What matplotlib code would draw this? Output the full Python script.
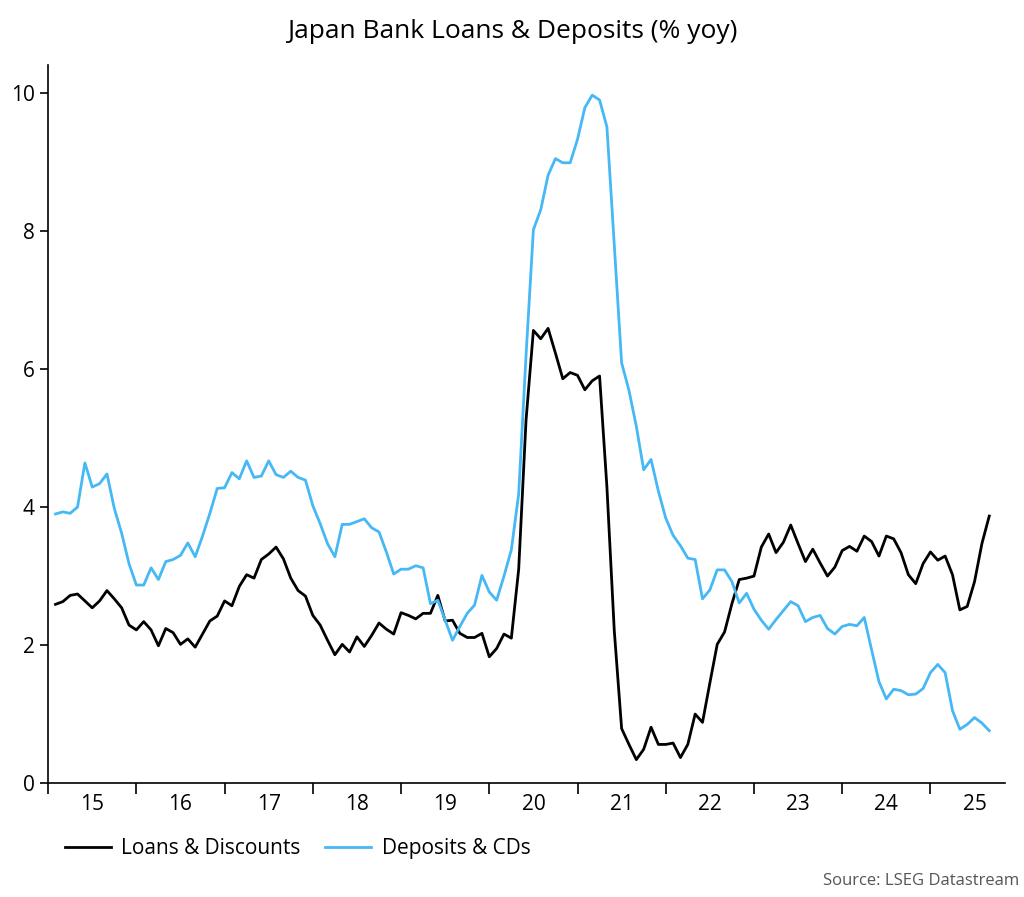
import matplotlib
matplotlib.use("Agg")
import matplotlib.pyplot as plt
import numpy as np

plt.rcParams["font.family"] = "Open Sans"

title = "Japan Bank Loans & Deposits (% yoy)"
start_year = 2015
year_labels = ["15", "16", "17", "18", "19", "20", "21", "22", "23", "24", "25"]

loans = [2.59,2.63,2.72,2.74,2.64,2.54,2.64,2.79,2.67,2.54,
         2.29,2.22,2.34,2.22,1.99,2.24,2.18,2.01,2.09,1.97,
         2.16,2.35,2.42,2.64,2.57,2.85,3.02,2.97,3.24,3.32,
         3.42,3.25,2.97,2.79,2.71,2.43,2.29,2.07,1.86,2.01,
         1.90,2.12,1.98,2.14,2.32,2.23,2.16,2.47,2.43,2.38,
         2.46,2.46,2.72,2.35,2.36,2.17,2.11,2.11,2.17,1.83,
         1.95,2.16,2.10,3.10,5.26,6.56,6.44,6.59,6.23,5.86,
         5.95,5.91,5.70,5.83,5.90,4.29,2.21,0.79,0.56,0.34,
         0.49,0.81,0.56,0.56,0.58,0.37,0.56,1.00,0.88,1.45,
         2.01,2.19,2.60,2.95,2.97,3.00,3.42,3.61,3.34,3.49,
         3.74,3.47,3.21,3.39,3.19,3.00,3.13,3.37,3.43,3.36,
         3.58,3.50,3.29,3.58,3.54,3.34,3.02,2.89,3.18,3.35,
         3.23,3.29,3.02,2.51,2.56,2.92,3.47,3.87]

deposits = [3.90,3.93,3.91,4.00,4.64,4.29,4.34,4.48,3.98,3.62,
            3.18,2.87,2.87,3.12,2.95,3.21,3.24,3.30,3.48,3.28,
            3.58,3.91,4.27,4.28,4.50,4.41,4.67,4.43,4.45,4.67,
            4.47,4.43,4.52,4.43,4.39,4.02,3.76,3.47,3.28,3.75,
            3.75,3.79,3.83,3.70,3.64,3.35,3.03,3.10,3.10,3.15,
            3.12,2.60,2.65,2.36,2.07,2.27,2.46,2.58,3.01,2.77,
            2.65,3.00,3.38,4.19,6.20,8.02,8.31,8.81,9.05,8.99,
            8.99,9.33,9.79,9.97,9.90,9.51,7.80,6.09,5.69,5.17,
            4.54,4.69,4.23,3.84,3.59,3.44,3.26,3.24,2.67,2.80,
            3.09,3.09,2.92,2.61,2.75,2.52,2.36,2.23,2.37,2.50,
            2.63,2.57,2.34,2.40,2.43,2.24,2.16,2.27,2.30,2.28,
            2.40,1.93,1.47,1.22,1.36,1.34,1.28,1.29,1.37,1.60,
            1.72,1.60,1.05,0.78,0.85,0.95,0.87,0.76]

x = start_year + (np.arange(len(loans)) + 1) / 12.0

fig = plt.figure(figsize=(10.24, 8.97), dpi=100)
ax = fig.add_axes([0.047, 0.127, 0.934, 0.80])
l1, = ax.plot(x, loans, color="black", lw=2.0, label="Loans & Discounts")
l2, = ax.plot(x, deposits, color="#45B8F5", lw=2.0, label="Deposits & CDs")

ax.set_xlim(2015, 2025.84)
ax.set_ylim(0, 10.4)
ax.set_yticks([0, 2, 4, 6, 8, 10])
ax.set_xticks(np.arange(2015, 2026))
ax.set_xticklabels([])
ax.set_xticks(np.arange(2015, 2026) + 0.5, minor=True)
ax.set_xticklabels(year_labels, minor=True)
ax.tick_params(axis="x", which="major", direction="out", length=8, width=1.2)
ax.tick_params(axis="x", which="minor", length=0, pad=8, labelsize=15)
ax.tick_params(axis="y", direction="out", length=6, width=1.2, labelsize=15)
for s in ["top", "right"]:
    ax.spines[s].set_visible(False)
for s in ["left", "bottom"]:
    ax.spines[s].set_linewidth(1.2)

fig.text(0.5, 0.965, title, ha="center", va="center", fontsize=19)
fig.legend(handles=[l1, l2], loc="center left", bbox_to_anchor=(0.045, 0.054),
           ncol=2, frameon=False, fontsize=15, handlelength=2.2, columnspacing=1.2,
           handletextpad=0.5)
fig.text(0.995, 0.018, "Source: LSEG Datastream", ha="right", va="center",
         fontsize=12, color="#555555")

fig.savefig("out.png", dpi=100)
